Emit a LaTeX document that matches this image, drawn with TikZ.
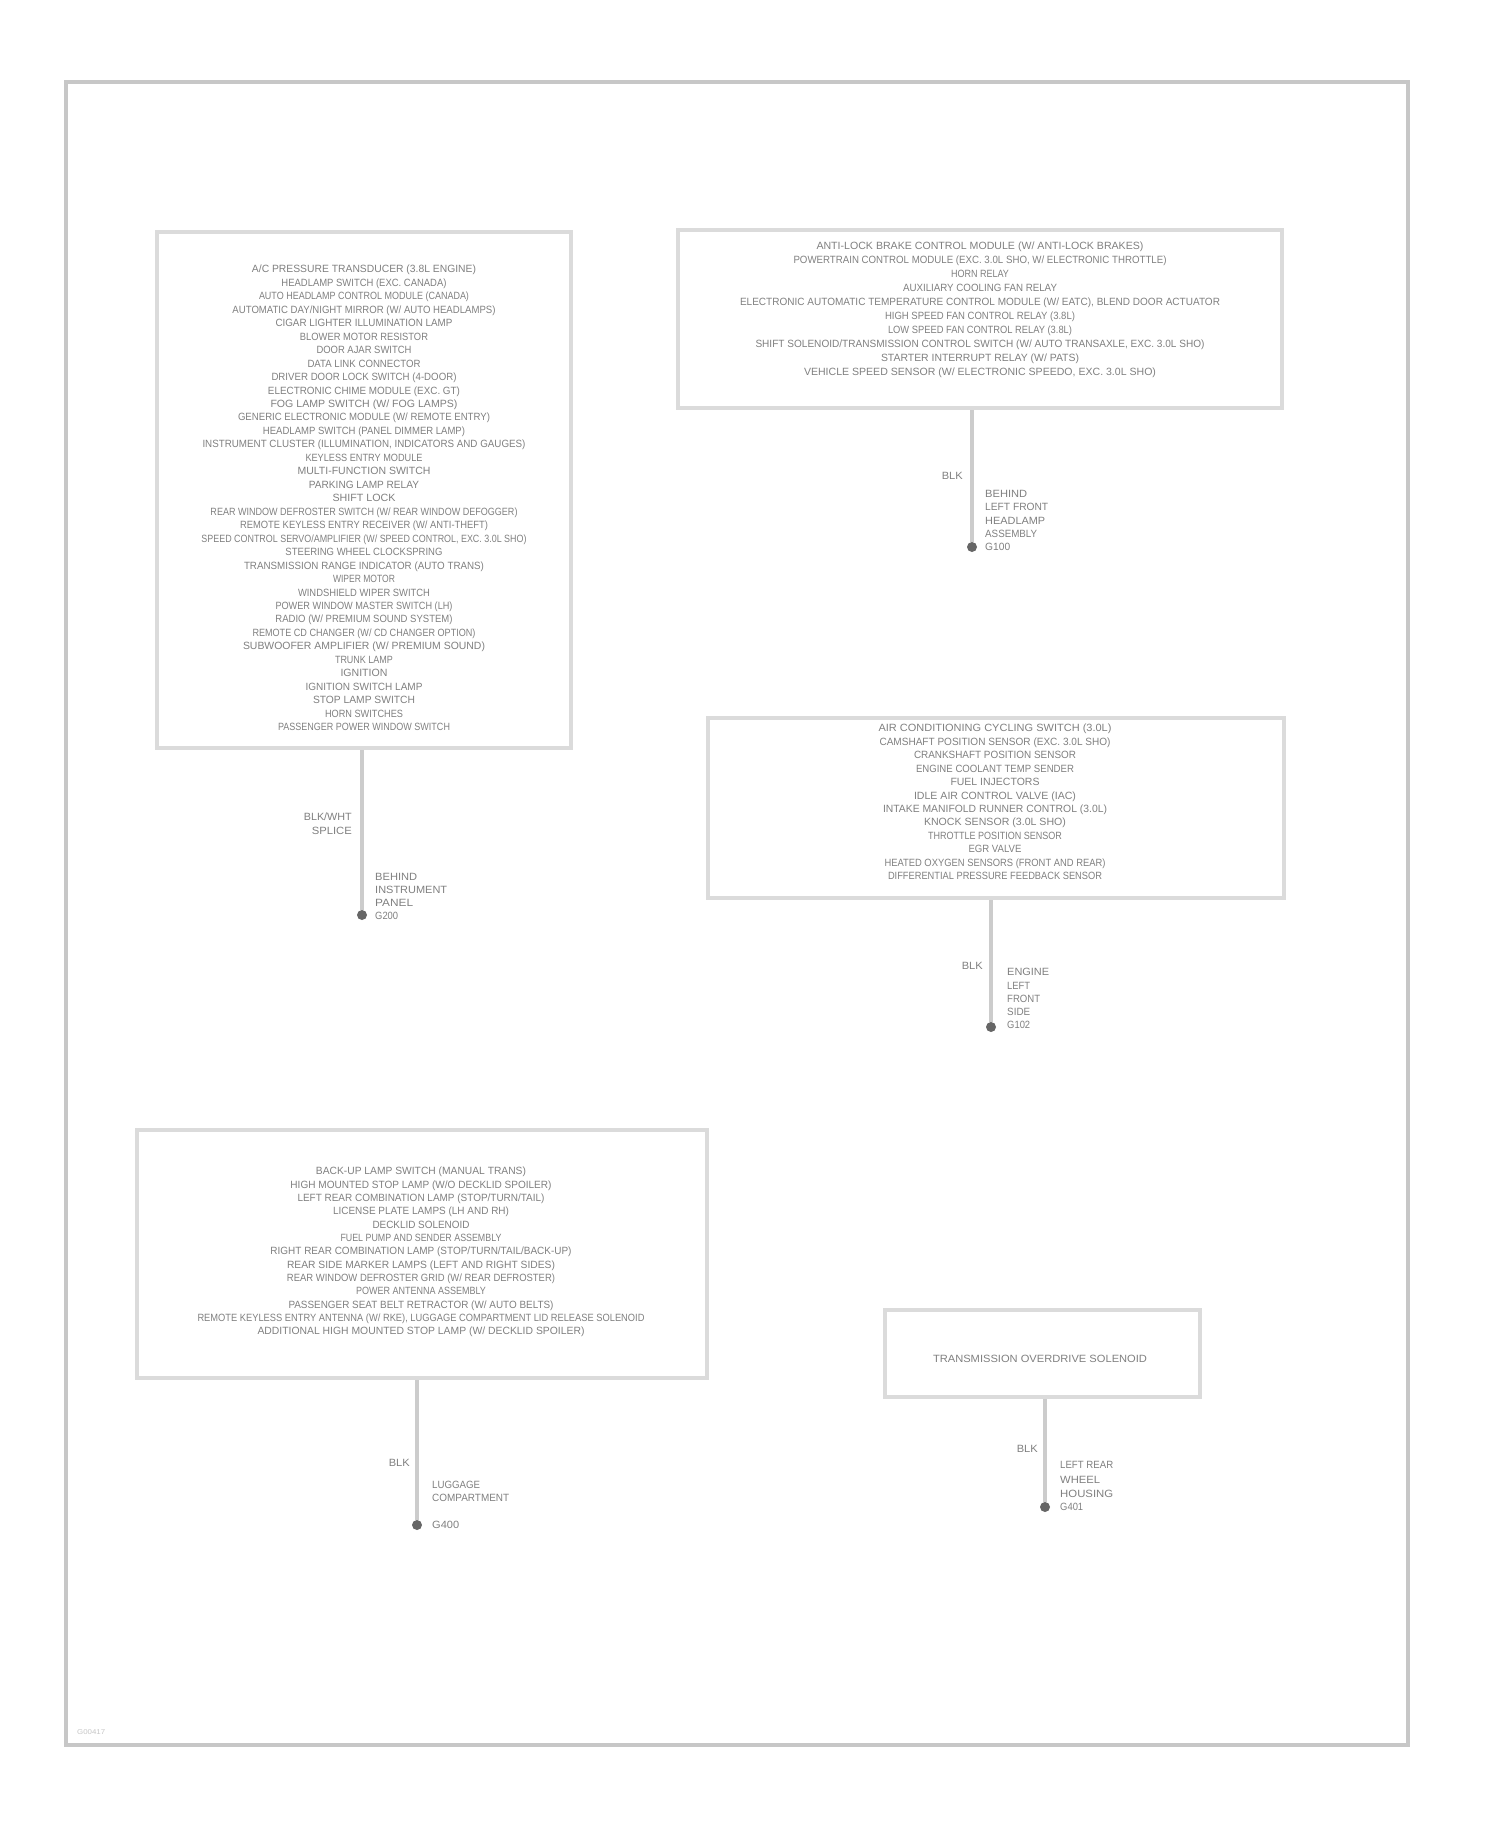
\documentclass[tikz,border=0pt]{standalone}
\usepackage{fontspec}
\setmainfont{Liberation Sans}
\usepackage{graphicx}
\newcommand{\fitw}[2]{\resizebox{#1pt}{\height}{#2}}
\definecolor{framecol}{gray}{0.78}
\definecolor{boxcol}{gray}{0.86}
\definecolor{wirecol}{gray}{0.80}
\definecolor{txtcol}{gray}{0.50}
\definecolor{dotcol}{gray}{0.40}
\begin{document}
\begin{tikzpicture}[x=1pt,y=-1pt,
  frameline/.style={draw=framecol,line width=4.5pt,inner sep=0pt},
  compbox/.style={draw=boxcol,line width=4pt,inner sep=0pt,fill=none},
  wire/.style={draw=wirecol,line width=3.5pt},
  gdot/.style={circle,fill=dotcol,minimum size=10pt,inner sep=0pt},
  txt/.style={text=txtcol,inner sep=0pt,align=center},
  lbl/.style={text=txtcol,inner sep=0pt,font=\fontsize{10.5pt}{13.25pt}\selectfont}]
\useasboundingbox (0,0) rectangle (1500,1828);
\fill[white] (0,0) rectangle (1500,1828);
% outer frame
\node[frameline,minimum width=1342pt,minimum height=1663pt] (frame) at (737,913.5) {};
\node[text=gray!45,inner sep=0pt,anchor=west,font=\fontsize{7pt}{8pt}\selectfont] (code) at (77,1732) {\fitw{28}{G00417}};

% ---------- box 1 ----------
\node[compbox,minimum width=414pt,minimum height=516pt] (b1) at (364,490) {};
\node[txt,font=\fontsize{10.5pt}{13.47pt}\selectfont] (t1) at (364,498) {%
\fitw{224}{A/C PRESSURE TRANSDUCER (3.8L ENGINE)}\\
\fitw{165}{HEADLAMP SWITCH (EXC. CANADA)}\\
\fitw{210}{AUTO HEADLAMP CONTROL MODULE (CANADA)}\\
\fitw{263}{AUTOMATIC DAY/NIGHT MIRROR (W/ AUTO HEADLAMPS)}\\
\fitw{177}{CIGAR LIGHTER ILLUMINATION LAMP}\\
\fitw{128}{BLOWER MOTOR RESISTOR}\\
\fitw{95}{DOOR AJAR SWITCH}\\
\fitw{113}{DATA LINK CONNECTOR}\\
\fitw{185}{DRIVER DOOR LOCK SWITCH (4-DOOR)}\\
\fitw{192}{ELECTRONIC CHIME MODULE (EXC. GT)}\\
\fitw{187}{FOG LAMP SWITCH (W/ FOG LAMPS)}\\
\fitw{252}{GENERIC ELECTRONIC MODULE (W/ REMOTE ENTRY)}\\
\fitw{202}{HEADLAMP SWITCH (PANEL DIMMER LAMP)}\\
\fitw{323}{INSTRUMENT CLUSTER (ILLUMINATION, INDICATORS AND GAUGES)}\\
\fitw{117}{KEYLESS ENTRY MODULE}\\
\fitw{133}{MULTI-FUNCTION SWITCH}\\
\fitw{110}{PARKING LAMP RELAY}\\
\fitw{63}{SHIFT LOCK}\\
\fitw{307}{REAR WINDOW DEFROSTER SWITCH (W/ REAR WINDOW DEFOGGER)}\\
\fitw{248}{REMOTE KEYLESS ENTRY RECEIVER (W/ ANTI-THEFT)}\\
\fitw{325}{SPEED CONTROL SERVO/AMPLIFIER (W/ SPEED CONTROL, EXC. 3.0L SHO)}\\
\fitw{157}{STEERING WHEEL CLOCKSPRING}\\
\fitw{240}{TRANSMISSION RANGE INDICATOR (AUTO TRANS)}\\
\fitw{62}{WIPER MOTOR}\\
\fitw{132}{WINDSHIELD WIPER SWITCH}\\
\fitw{177}{POWER WINDOW MASTER SWITCH (LH)}\\
\fitw{177}{RADIO (W/ PREMIUM SOUND SYSTEM)}\\
\fitw{223}{REMOTE CD CHANGER (W/ CD CHANGER OPTION)}\\
\fitw{242}{SUBWOOFER AMPLIFIER (W/ PREMIUM SOUND)}\\
\fitw{58}{TRUNK LAMP}\\
\fitw{47}{IGNITION}\\
\fitw{117}{IGNITION SWITCH LAMP}\\
\fitw{102}{STOP LAMP SWITCH}\\
\fitw{78}{HORN SWITCHES}\\
\fitw{172}{PASSENGER POWER WINDOW SWITCH}};
\node[gdot] (g1) at (362,915) {};
\draw[wire] (b1.south -| g1) -- (g1);
\node[lbl,anchor=east,align=right,font=\fontsize{10.5pt}{14pt}\selectfont] (w1) at (352,824) {\fitw{48}{BLK/WHT}\\\fitw{40}{SPLICE}};
\node[lbl,anchor=west,align=left,font=\fontsize{10.5pt}{13pt}\selectfont] (l1) at (375,890) {\fitw{42}{BEHIND}\\\fitw{72}{INSTRUMENT}\\\fitw{38}{PANEL}};
\node[lbl,anchor=west] (id1) at (375,916) {\fitw{23}{G200}};

% ---------- box 2 ----------
\node[compbox,minimum width=604pt,minimum height=178pt] (b2) at (980,319) {};
\node[txt,font=\fontsize{10.5pt}{14pt}\selectfont] (t2) at (980,310) {%
\fitw{327}{ANTI-LOCK BRAKE CONTROL MODULE (W/ ANTI-LOCK BRAKES)}\\
\fitw{373}{POWERTRAIN CONTROL MODULE (EXC. 3.0L SHO, W/ ELECTRONIC THROTTLE)}\\
\fitw{58}{HORN RELAY}\\
\fitw{154}{AUXILIARY COOLING FAN RELAY}\\
\fitw{480}{ELECTRONIC AUTOMATIC TEMPERATURE CONTROL MODULE (W/ EATC), BLEND DOOR ACTUATOR}\\
\fitw{190}{HIGH SPEED FAN CONTROL RELAY (3.8L)}\\
\fitw{184}{LOW SPEED FAN CONTROL RELAY (3.8L)}\\
\fitw{449}{SHIFT SOLENOID/TRANSMISSION CONTROL SWITCH (W/ AUTO TRANSAXLE, EXC. 3.0L SHO)}\\
\fitw{198}{STARTER INTERRUPT RELAY (W/ PATS)}\\
\fitw{352}{VEHICLE SPEED SENSOR (W/ ELECTRONIC SPEEDO, EXC. 3.0L SHO)}};
\node[gdot] (g2) at (972,547) {};
\draw[wire] (b2.south -| g2) -- (g2);
\node[lbl,anchor=east] (w2) at (963,476) {\fitw{21}{BLK}};
\node[lbl,anchor=west,align=left] (l2) at (985,514) {\fitw{42}{BEHIND}\\\fitw{63}{LEFT FRONT}\\\fitw{60}{HEADLAMP}\\\fitw{52}{ASSEMBLY}};
\node[lbl,anchor=west] (id2) at (985,547) {\fitw{25}{G100}};

% ---------- box 3 ----------
\node[compbox,minimum width=576pt,minimum height=180pt] (b3) at (996,808) {};
\node[txt,font=\fontsize{10.5pt}{13.45pt}\selectfont] (t3) at (995,802) {%
\fitw{233}{AIR CONDITIONING CYCLING SWITCH (3.0L)}\\
\fitw{231}{CAMSHAFT POSITION SENSOR (EXC. 3.0L SHO)}\\
\fitw{162}{CRANKSHAFT POSITION SENSOR}\\
\fitw{158}{ENGINE COOLANT TEMP SENDER}\\
\fitw{89}{FUEL INJECTORS}\\
\fitw{162}{IDLE AIR CONTROL VALVE (IAC)}\\
\fitw{224}{INTAKE MANIFOLD RUNNER CONTROL (3.0L)}\\
\fitw{142}{KNOCK SENSOR (3.0L SHO)}\\
\fitw{134}{THROTTLE POSITION SENSOR}\\
\fitw{53}{EGR VALVE}\\
\fitw{221}{HEATED OXYGEN SENSORS (FRONT AND REAR)}\\
\fitw{214}{DIFFERENTIAL PRESSURE FEEDBACK SENSOR}};
\node[gdot] (g3) at (991,1027) {};
\draw[wire] (b3.south -| g3) -- (g3);
\node[lbl,anchor=east] (w3) at (983,966) {\fitw{21}{BLK}};
\node[lbl,anchor=west,align=left] (l3) at (1007,992) {\fitw{42}{ENGINE}\\\fitw{23}{LEFT}\\\fitw{33}{FRONT}\\\fitw{23}{SIDE}};
\node[lbl,anchor=west] (id3) at (1007,1025) {\fitw{23}{G102}};

% ---------- box 4 ----------
\node[compbox,minimum width=570pt,minimum height=248pt] (b4) at (422,1254) {};
\node[txt,font=\fontsize{10.5pt}{13.33pt}\selectfont] (t4) at (421,1252) {%
\fitw{210}{BACK-UP LAMP SWITCH (MANUAL TRANS)}\\
\fitw{261}{HIGH MOUNTED STOP LAMP (W/O DECKLID SPOILER)}\\
\fitw{247}{LEFT REAR COMBINATION LAMP (STOP/TURN/TAIL)}\\
\fitw{176}{LICENSE PLATE LAMPS (LH AND RH)}\\
\fitw{97}{DECKLID SOLENOID}\\
\fitw{161}{FUEL PUMP AND SENDER ASSEMBLY}\\
\fitw{301}{RIGHT REAR COMBINATION LAMP (STOP/TURN/TAIL/BACK-UP)}\\
\fitw{268}{REAR SIDE MARKER LAMPS (LEFT AND RIGHT SIDES)}\\
\fitw{268}{REAR WINDOW DEFROSTER GRID (W/ REAR DEFROSTER)}\\
\fitw{130}{POWER ANTENNA ASSEMBLY}\\
\fitw{265}{PASSENGER SEAT BELT RETRACTOR (W/ AUTO BELTS)}\\
\fitw{447}{REMOTE KEYLESS ENTRY ANTENNA (W/ RKE), LUGGAGE COMPARTMENT LID RELEASE SOLENOID}\\
\fitw{327}{ADDITIONAL HIGH MOUNTED STOP LAMP (W/ DECKLID SPOILER)}};
\node[gdot] (g4) at (417,1525) {};
\draw[wire] (b4.south -| g4) -- (g4);
\node[lbl,anchor=east] (w4) at (410,1463) {\fitw{21}{BLK}};
\node[lbl,anchor=west,align=left] (l4) at (432,1491.5) {\fitw{48}{LUGGAGE}\\\fitw{77}{COMPARTMENT}};
\node[lbl,anchor=west] (id4) at (432,1525) {\fitw{27}{G400}};

% ---------- box 5 ----------
\node[compbox,minimum width=315pt,minimum height=87pt] (b5) at (1042.5,1353.5) {};
\node[txt,font=\fontsize{10.5pt}{13.3pt}\selectfont] (t5) at (1040,1359) {\fitw{214}{TRANSMISSION OVERDRIVE SOLENOID}};
\node[gdot] (g5) at (1045,1507) {};
\draw[wire] (b5.south -| g5) -- (g5);
\node[lbl,anchor=east] (w5) at (1038,1449) {\fitw{21}{BLK}};
\node[lbl,anchor=west,align=left,font=\fontsize{10.5pt}{14.5pt}\selectfont] (l5) at (1060,1479.5) {\fitw{53}{LEFT REAR}\\\fitw{40}{WHEEL}\\\fitw{53}{HOUSING}};
\node[lbl,anchor=west] (id5) at (1060,1507) {\fitw{23}{G401}};
\end{tikzpicture}
\end{document}
